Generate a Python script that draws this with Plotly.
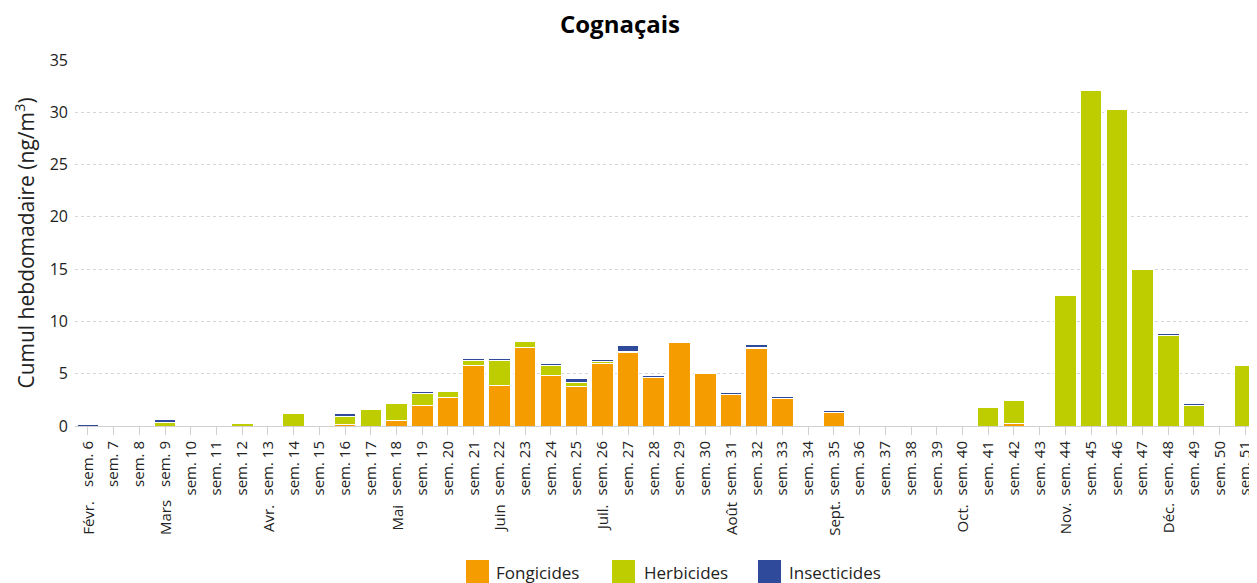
import plotly.graph_objects as go

weeks = [f"sem. {w}" for w in range(6, 52)]

fongicides = [None, None, None, None, None, None, None, None, None, None,
              0.15, None, 0.55, 2.0, 2.7, 5.8, 3.9, 7.5, 4.8, 3.8,
              6.0, 7.0, 4.6, 8.0, 5.05, 3.0, 7.45, 2.65, None, 1.25,
              None, None, None, None, None, None, 0.2, None, None, None,
              None, None, None, None, None, None]
herbicides = [None, None, None, 0.38, None, None, 0.22, None, 1.15, None,
              0.8, 1.55, 1.6, 1.15, 0.6, 0.5, 2.4, 0.55, 0.95, 0.38,
              0.15, 0.08, 0.08, 0.05, 0.02, 0.02, 0.1, 0.02, None, 0.08,
              None, None, None, None, None, 1.8, 2.2, None, 12.45, 32.1,
              30.25, 15.0, 8.65, 2.0, None, 5.75]
insecticides = [0.15, None, None, 0.2, None, None, 0.13, None, 0.15, None,
                0.2, 0.1, 0.12, 0.13, 0.13, 0.18, 0.18, 0.13, 0.22, 0.35,
                0.2, 0.65, 0.13, 0.15, 0.1, 0.17, 0.22, 0.13, None, 0.13,
                None, None, None, None, None, 0.1, 0.09, None, 0.1, 0.12,
                0.15, 0.08, 0.15, 0.17, None, 0.08]

months = ["Févr.", "Mars", "Avr.", "Mai", "Juin", "Juil.", "Août", "Sept.", "Oct.", "Nov.", "Déc."]
month_weeks = ["sem. 6", "sem. 9", "sem. 13", "sem. 18", "sem. 22", "sem. 26",
               "sem. 31", "sem. 35", "sem. 40", "sem. 44", "sem. 48"]

series_names = ["Fongicides", "Herbicides", "Insecticides"]
colors = ["#f59c00", "#bdcd00", "#2f4a9b"]

FONT = "Open Sans"
OFF = 8  # page body margin
W, H = 1257 - OFF, 583 - OFF
L, R, T, B = 67, 0, 52, 157
PW, PH = W - L - R, H - T - B


def px(x):
    # window pixel x -> paper x
    return (x - OFF - L) / PW


def py(y):
    # window pixel y -> paper y
    return (H - B - (y - OFF)) / PH


fig = go.Figure()
for name, vals, col in zip(series_names, [fongicides, herbicides, insecticides], colors):
    fig.add_trace(go.Bar(x=weeks, y=vals, name=name, marker_color=col,
                         marker_line=dict(color="white", width=1), showlegend=False))

annotations = []
for m, w in zip(months, month_weeks):
    annotations.append(dict(x=w, xref="x", y=py(518), yref="paper", text=m, showarrow=False,
                            textangle=-90, xanchor="center", yanchor="middle",
                            font=dict(family=FONT, size=15, color="#222")))

shapes = []
legend_items = [(466, 494), (612, 642), (758, 787)]
for (bx, tx), name, col in zip(legend_items, series_names, colors):
    shapes.append(dict(type="rect", xref="paper", yref="paper",
                       x0=px(bx), x1=px(bx + 23), y0=py(584), y1=py(560),
                       fillcolor=col, line=dict(width=0)))
    annotations.append(dict(x=px(tx), y=py(572), xref="paper", yref="paper", text=name,
                            showarrow=False, xanchor="left", yanchor="middle",
                            font=dict(family=FONT, size=17, color="#222")))

fig.update_layout(
    width=W, height=H,
    margin=dict(l=L, r=R, t=T, b=B, autoexpand=False),
    barmode="stack", bargap=0.16,
    plot_bgcolor="white", paper_bgcolor="white",
    font=dict(family=FONT, color="#222"),
    title=dict(text="<b>Cognaçais</b>", x=(620 - OFF) / W, xanchor="center",
               y=1 - (24.5 - OFF) / H, yanchor="middle",
               font=dict(family=FONT, size=24, color="#000")),
    xaxis=dict(categoryorder="array", categoryarray=weeks, range=[-0.5, 45.45],
               tickangle=-90, tickfont=dict(family=FONT, size=15, color="#222"),
               showline=True, linecolor="#d0d0d0", linewidth=1,
               ticks="outside", ticklen=8, tickcolor="#d0d0d0", showgrid=False),
    yaxis=dict(range=[0, 35], dtick=5, showgrid=True, gridcolor="#d6d6d6", griddash="dot",
               gridwidth=1, zeroline=False, tickfont=dict(family=FONT, size=16, color="#222"),
               ticks="", ticklabelstandoff=6,
               title=dict(text="Cumul hebdomadaire (ng/m<sup>3</sup>)", standoff=9,
                          font=dict(family=FONT, size=21, color="#222"))),
    annotations=annotations, shapes=shapes,
)

fig.write_html("out.html")
